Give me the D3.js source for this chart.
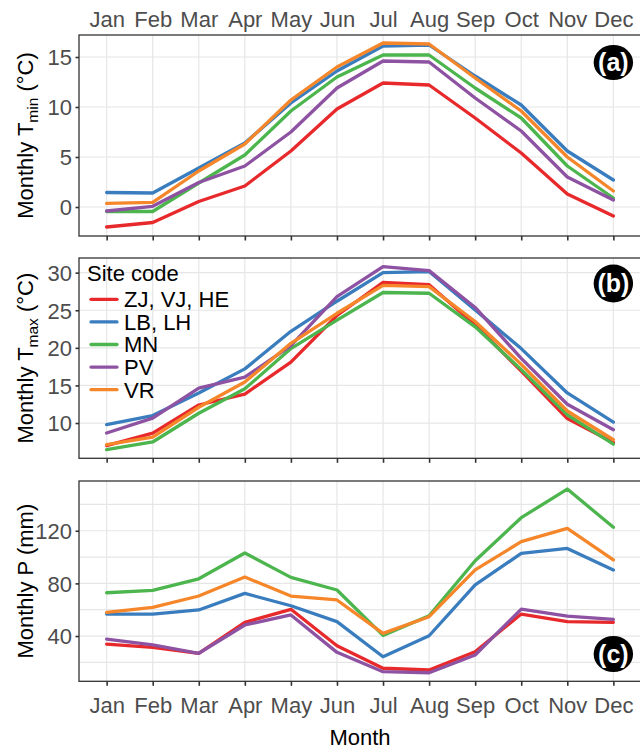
<!DOCTYPE html>
<html>
<head>
<meta charset="utf-8">
<script src="https://cdn.jsdelivr.net/npm/d3@7"></script>
<style>
  html, body { margin: 0; padding: 0; background: #fff; }
  svg { display: block; font-family: "Liberation Sans", Arial, Helvetica, sans-serif; }
</style>
</head>
<body>
<svg id="chart" width="640" height="749"></svg>
<script>
// Months on the shared x axis
const months = ["Jan", "Feb", "Mar", "Apr", "May", "Jun", "Jul", "Aug", "Sep", "Oct", "Nov", "Dec"];

// Site groups (legend order = drawing order)
const sites = ["ZJ, VJ, HE", "LB, LH", "MN", "PV", "VR"];
const siteColors = ["#E8292B", "#3A7DBE", "#4DB54D", "#8E52A3", "#F5862A"];

// Monthly minimum temperature (°C)
const tminZJ = [-2.0, -1.55, 0.55, 2.1, 5.6, 9.8, 12.4, 12.2, 8.9, 5.4, 1.3, -0.9];
const tminLB = [1.45, 1.4, 3.9, 6.4, 10.4, 13.6, 16.1, 16.2, 13.1, 10.2, 5.6, 2.7];
const tminMN = [-0.45, -0.45, 2.4, 5.2, 9.6, 13.0, 15.2, 15.2, 11.9, 8.9, 4.1, 0.9];
const tminPV = [-0.4, 0.07, 2.45, 4.1, 7.5, 11.9, 14.6, 14.5, 10.9, 7.6, 3.0, 0.7];
const tminVR = [0.36, 0.46, 3.6, 6.3, 10.7, 14.0, 16.4, 16.3, 12.9, 9.6, 5.0, 1.6];

// Monthly maximum temperature (°C)
const tmaxZJ = [7.0, 8.67, 12.4, 13.85, 18.1, 24.3, 28.7, 28.4, 23.05, 16.9, 10.6, 7.4];
const tmaxLB = [9.78, 11.0, 14.0, 17.2, 22.2, 26.2, 30.0, 30.15, 25.05, 19.9, 14.0, 10.13];
const tmaxMN = [6.46, 7.48, 11.3, 14.55, 19.9, 23.7, 27.36, 27.26, 22.8, 17.1, 11.1, 7.2];
const tmaxPV = [8.67, 10.66, 14.65, 16.1, 20.3, 26.8, 30.8, 30.28, 25.37, 18.6, 12.5, 9.1];
const tmaxVR = [7.12, 8.14, 12.1, 15.45, 20.6, 24.6, 28.3, 28.15, 23.5, 17.8, 11.6, 7.78];

// Monthly precipitation (mm)
const precZJ = [33.9, 31.4, 26.9, 50.4, 60.3, 32.6, 15.5, 14.2, 28.1, 56.7, 50.9, 50.4];
const precLB = [56.7, 56.7, 59.8, 72.4, 63.0, 50.9, 24.3, 40.2, 78.8, 102.8, 106.6, 90.2];
const precMN = [72.9, 74.7, 83.5, 103.1, 84.6, 75.0, 40.5, 55.4, 97.2, 129.9, 151.7, 122.6];
const precPV = [37.7, 33.2, 26.9, 48.4, 56.0, 27.6, 12.9, 12.1, 25.6, 60.5, 55.2, 52.7];
const precVR = [58.0, 61.8, 70.4, 84.8, 70.4, 67.4, 42.0, 54.7, 90.2, 111.7, 121.8, 97.8];

// Axis breaks
const tminTicks = [0, 5, 10, 15];
const tmaxTicks = [10, 15, 20, 25, 30];
const precTicks = [40, 80, 120];
const precGrid = [20, 40, 60, 80, 100, 120, 140];

const svg = d3.select("#chart");
const FONT = 22;
const left = 79, right = 641;

const x = d3.scalePoint().domain(months).range([left, right]).padding(0.6);

const panels = [
  { tag: "(a)", series: [tminZJ, tminLB, tminMN, tminPV, tminVR], domain: [-2.9, 17.2],
    top: 35, bottom: 236, ticks: tminTicks, grid: tminTicks,
    title: ["Monthly T", "min", " (°C)"], badge: { cy: 62.5, ry: 17.5 } },
  { tag: "(b)", series: [tmaxZJ, tmaxLB, tmaxMN, tmaxPV, tmaxVR], domain: [5.31, 31.95],
    top: 258, bottom: 458.3, ticks: tmaxTicks, grid: tmaxTicks,
    title: ["Monthly T", "max", " (°C)"], badge: { cy: 283.5, ry: 19 }, legend: true },
  { tag: "(c)", series: [precZJ, precLB, precMN, precPV, precVR], domain: [5.6, 157.8],
    top: 481, bottom: 681.3, ticks: precTicks, grid: precGrid,
    title: ["Monthly P (mm)"], badge: { cy: 654, ry: 18 }, bottomLabels: true }
];

panels.forEach((p, pi) => {
  const y = d3.scaleLinear().domain(p.domain).range([p.bottom, p.top]);
  const g = svg.append("g");

  // background grid
  g.append("g").selectAll("line.h").data(p.grid).join("line")
    .attr("x1", left).attr("x2", right)
    .attr("y1", d => y(d)).attr("y2", d => y(d))
    .attr("stroke", "#E6E6E6").attr("stroke-width", 1.2);
  g.append("g").selectAll("line.v").data(months).join("line")
    .attr("x1", d => x(d)).attr("x2", d => x(d))
    .attr("y1", p.top).attr("y2", p.bottom)
    .attr("stroke", "#E6E6E6").attr("stroke-width", 1.2);

  // series lines
  const line = d3.line().x((d, i) => x(months[i])).y(d => y(d));
  g.append("g").selectAll("path").data(p.series).join("path")
    .attr("d", d => line(d))
    .attr("fill", "none")
    .attr("stroke", (d, i) => siteColors[i])
    .attr("stroke-width", 3.3)
    .attr("stroke-linejoin", "round")
    .attr("stroke-linecap", "round");

  // panel border
  g.append("rect")
    .attr("x", left).attr("y", p.top)
    .attr("width", right - left).attr("height", p.bottom - p.top)
    .attr("fill", "none").attr("stroke", "#333").attr("stroke-width", 1.3);

  // y axis
  const ya = g.append("g").attr("transform", `translate(${left},0)`)
    .call(d3.axisLeft(y).tickValues(p.ticks).tickSize(3.5).tickPadding(3.5).tickFormat(d3.format("d")));
  ya.select(".domain").remove();
  ya.selectAll(".tick line").attr("stroke", "#333").attr("stroke-width", 1.6);
  ya.selectAll(".tick text").attr("fill", "#4D4D4D").attr("font-size", FONT)
    .attr("font-family", "Liberation Sans, Arial, sans-serif").attr("dy", "0.36em");

  // x axis (bottom ticks on every panel)
  const xa = g.append("g").attr("transform", `translate(0,${p.bottom})`)
    .call(d3.axisBottom(x).tickSize(4.5).tickPadding(11.3)
      .tickFormat(p.bottomLabels ? (d => d) : () => ""));
  xa.select(".domain").remove();
  xa.selectAll(".tick line").attr("stroke", "#333").attr("stroke-width", 1.6);
  xa.selectAll(".tick text").attr("fill", "#4D4D4D").attr("font-size", FONT)
    .attr("font-family", "Liberation Sans, Arial, sans-serif");

  // month labels above the first panel
  if (pi === 0) {
    const ta = g.append("g").attr("transform", `translate(0,${p.top})`)
      .call(d3.axisTop(x).tickSize(0).tickPadding(8.3));
    ta.select(".domain").remove();
    ta.selectAll(".tick text").attr("fill", "#4D4D4D").attr("font-size", FONT)
      .attr("font-family", "Liberation Sans, Arial, sans-serif");
  }

  // y-axis title
  const cy = (p.top + p.bottom) / 2;
  const t = svg.append("text")
    .attr("transform", `translate(33,${cy}) rotate(-90)`)
    .attr("text-anchor", "middle")
    .attr("font-size", FONT).attr("fill", "#000");
  if (p.title.length === 1) {
    t.text(p.title[0]);
  } else {
    t.append("tspan").text(p.title[0]);
    t.append("tspan").attr("font-size", 15.5).attr("dy", 5).text(p.title[1]);
    t.append("tspan").attr("dy", -5).text(p.title[2]);
  }

  // panel tag badge
  const bx = x("Dec");
  g.append("ellipse").attr("cx", bx).attr("cy", p.badge.cy)
    .attr("rx", 19.7).attr("ry", p.badge.ry).attr("fill", "#000");
  g.append("text").attr("x", bx).attr("y", p.badge.cy)
    .attr("dy", "0.35em").attr("text-anchor", "middle")
    .attr("font-size", 25).attr("font-weight", "bold").attr("fill", "#fff")
    .text(p.tag);

  // legend inside panel (b)
  if (p.legend) {
    const lg = g.append("g");
    lg.append("text").attr("x", 87).attr("y", 280.7)
      .attr("font-size", FONT).attr("fill", "#000").text("Site code");
    const rows = lg.selectAll("g.item").data(sites).join("g")
      .attr("transform", (d, i) => `translate(0,${299.3 + i * 22.6})`);
    rows.append("line").attr("x1", 91).attr("x2", 117).attr("y1", 0).attr("y2", 0)
      .attr("stroke", (d, i) => siteColors[i]).attr("stroke-width", 3.3)
      .attr("stroke-linecap", "round");
    rows.append("text").attr("x", 124).attr("y", 0).attr("dy", "0.36em")
      .attr("font-size", FONT).attr("fill", "#000").text(d => d);
  }
});

// x-axis title
svg.append("text").attr("x", (left + right) / 2).attr("y", 745)
  .attr("text-anchor", "middle").attr("font-size", FONT).attr("fill", "#000")
  .text("Month");
</script>
</body>
</html>
